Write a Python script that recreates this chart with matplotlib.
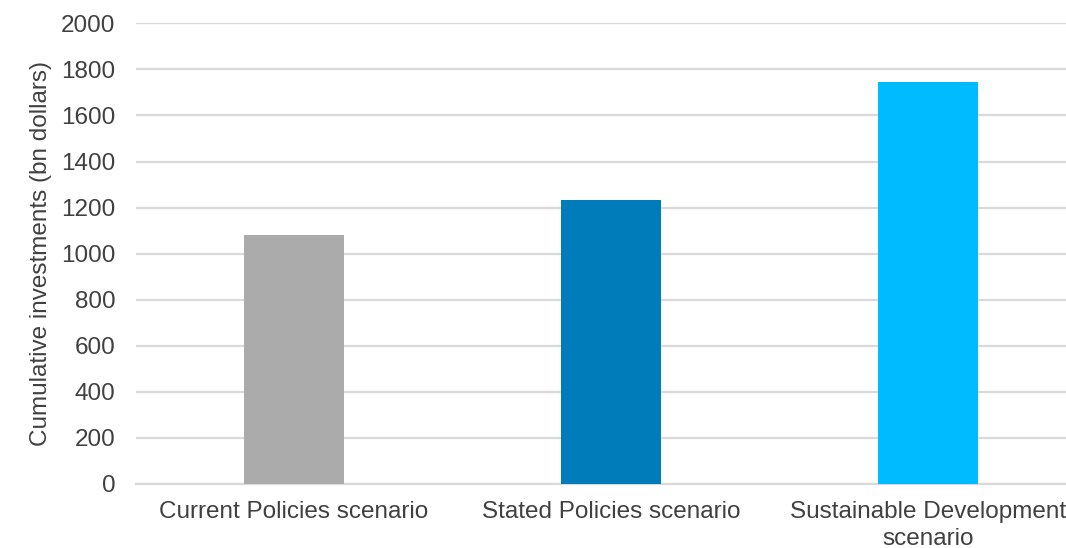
import matplotlib.pyplot as plt

plt.rcParams['font.family'] = ['Liberation Sans', 'DejaVu Sans']

# data
scenarios = ['Current Policies scenario', 'Stated Policies scenario',
             'Sustainable Development\nscenario']
investments = [1081, 1233, 1745]
bar_colors = ['#ABABAB', '#007CBA', '#00BBFF']
y_ticks = list(range(0, 2001, 200))

fig = plt.figure(figsize=(10.66, 5.48), dpi=100)
ax = fig.add_axes([136 / 1066, 1 - 484 / 548, 1 - 136 / 1066, (484 - 23.3) / 548])

x = list(range(len(scenarios)))
ax.bar(x, investments, width=0.315, color=bar_colors, zorder=3)

ax.set_ylim(0, 2000)
ax.set_xlim(-0.498, 2.435)
ax.set_yticks(y_ticks)
ax.set_xticks(x)
ax.set_xticklabels(scenarios, linespacing=1.3)

ax.yaxis.grid(True, color='#D9D9D9', linewidth=1.6, zorder=0)
for side in ['top', 'right', 'left']:
    ax.spines[side].set_visible(False)
ax.spines['bottom'].set_color('#D9D9D9')
ax.spines['bottom'].set_linewidth(1.6)

ax.tick_params(axis='y', length=0, pad=15, labelsize=17.5, labelcolor='#404040')
ax.tick_params(axis='x', length=0, pad=12, labelsize=17.5, labelcolor='#404040')
ax.set_ylabel('Cumulative investments (bn dollars)', fontsize=17.5, color='#404040', labelpad=6)

fig.savefig('out.png', dpi=100)
